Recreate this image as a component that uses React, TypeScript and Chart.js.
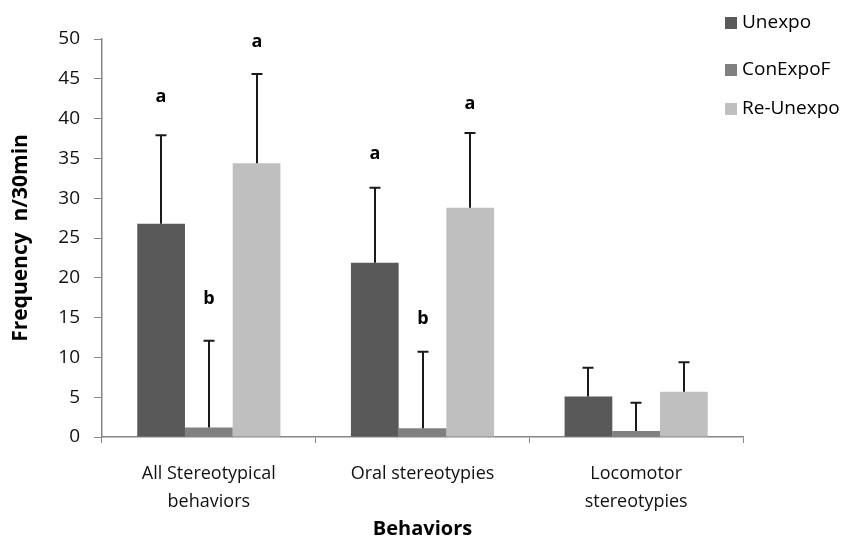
import React, { useEffect, useRef } from 'react';
import { Chart, registerables } from 'chart.js';

Chart.register(...registerables);

const categories: (string | string[])[] = [
  ['All Stereotypical', 'behaviors'],
  'Oral stereotypies',
  ['Locomotor', 'stereotypies'],
];
const seriesNames = ['Unexpo', 'ConExpoF', 'Re-Unexpo'];
const seriesColors = ['#595959', '#808080', '#bfbfbf'];

const unexpo = [26.8, 21.9, 5.1];
const conExpoF = [1.2, 1.1, 0.75];
const reUnexpo = [34.4, 28.8, 5.7];

// upper ends of the error bars
const unexpoErrTop = [37.9, 31.3, 8.7];
const conExpoFErrTop = [12.1, 10.7, 4.3];
const reUnexpoErrTop = [45.6, 38.2, 9.4];

// significance letters and the value at which each is centred
const unexpoLetters = ['a', 'a', ''];
const conExpoFLetters = ['b', 'b', ''];
const reUnexpoLetters = ['a', 'a', ''];
const unexpoLetterPos = [42.7, 35.6, 0];
const conExpoFLetterPos = [17.3, 14.8, 0];
const reUnexpoLetterPos = [49.6, 41.8, 0];

const yTicks = [0, 5, 10, 15, 20, 25, 30, 35, 40, 45, 50];

const FONT = "'Open Sans', 'DejaVu Sans', sans-serif";
const AXIS_COLOR = '#868686';

const errTops = [unexpoErrTop, conExpoFErrTop, reUnexpoErrTop];
const letters = [unexpoLetters, conExpoFLetters, reUnexpoLetters];
const letterPos = [unexpoLetterPos, conExpoFLetterPos, reUnexpoLetterPos];

const overlayPlugin = {
  id: 'overlay',
  afterDatasetsDraw(chart: any) {
    const ctx = chart.ctx;
    const y = chart.scales.y;
    ctx.save();
    // error bars
    for (let d = 0; d < 3; d++) {
      const meta = chart.getDatasetMeta(d);
      meta.data.forEach((bar: any, i: number) => {
        const x = Math.round(bar.x);
        const yTop = y.getPixelForValue(errTops[d][i]);
        const yBar = bar.y;
        ctx.strokeStyle = '#1a1a1a';
        ctx.lineWidth = 2;
        ctx.beginPath();
        ctx.moveTo(x, yBar);
        ctx.lineTo(x, yTop);
        ctx.moveTo(x - 5.5, yTop);
        ctx.lineTo(x + 5.5, yTop);
        ctx.stroke();
        const L = letters[d][i];
        if (L) {
          ctx.fillStyle = '#000';
          ctx.font = `bold 18px ${FONT}`;
          ctx.textAlign = 'center';
          ctx.textBaseline = 'middle';
          ctx.fillText(L, x, y.getPixelForValue(letterPos[d][i]));
        }
      });
    }
    // legend
    const legendY = [23, 70, 109];
    for (let d = 0; d < 3; d++) {
      ctx.fillStyle = seriesColors[d];
      ctx.fillRect(725, legendY[d] - 6, 12, 12);
      ctx.fillStyle = '#000';
      ctx.font = `19px ${FONT}`;
      ctx.textAlign = 'left';
      ctx.textBaseline = 'middle';
      ctx.fillText(seriesNames[d], 742, legendY[d]);
    }
    ctx.restore();
  },
};

export default function App() {
  const ref = useRef<HTMLCanvasElement>(null);
  useEffect(() => {
    if (!ref.current) return;
    const chart = new Chart(ref.current, {
      type: 'bar',
      data: {
        labels: categories as any,
        datasets: [
          { label: seriesNames[0], data: unexpo, backgroundColor: seriesColors[0] },
          { label: seriesNames[1], data: conExpoF, backgroundColor: seriesColors[1] },
          { label: seriesNames[2], data: reUnexpo, backgroundColor: seriesColors[2] },
        ],
      },
      options: {
        responsive: false,
        animation: false,
        devicePixelRatio: 1,
        layout: { padding: { left: 0, right: 101, top: 39, bottom: 0 } },
        datasets: { bar: { categoryPercentage: 0.67, barPercentage: 1.0 } } as any,
        plugins: {
          legend: { display: false },
          tooltip: { enabled: false },
        },
        scales: {
          x: {
            offset: true,
            grid: {
              display: true,
              drawOnChartArea: false,
              drawTicks: true,
              tickLength: 6,
              color: AXIS_COLOR,
              offset: true,
            },
            border: { display: true, color: AXIS_COLOR, width: 1.5 },
            ticks: {
              color: '#111',
              font: { family: FONT, size: 18, lineHeight: 1.55 },
              padding: 17,
              maxRotation: 0,
              autoSkip: false,
            },
            title: {
              display: true,
              text: 'Behaviors',
              color: '#000',
              font: { family: FONT, size: 20, weight: 'bold', lineHeight: 0.8 },
              padding: { top: 0, bottom: 0 },
            },
            afterFit: (s: any) => {
              s.height = 100;
            },
          },
          y: {
            min: 0,
            max: 50,
            afterBuildTicks: (s: any) => {
              s.ticks = yTicks.map((v) => ({ value: v }));
            },
            grid: {
              display: true,
              drawOnChartArea: false,
              drawTicks: true,
              tickLength: 8,
              color: AXIS_COLOR,
            },
            border: { display: true, color: AXIS_COLOR, width: 1.5 },
            ticks: {
              color: '#111',
              font: { family: FONT, size: 19 },
              padding: 14,
            },
            title: {
              display: true,
              text: 'Frequency  n/30min',
              color: '#000',
              font: { family: FONT, size: 21, weight: 'bold' },
              padding: { top: 8, bottom: 0 },
            },
            afterFit: (s: any) => {
              s.width = 102;
            },
          },
        },
      },
      plugins: [overlayPlugin],
    });
    return () => chart.destroy();
  }, []);
  return (
    <div style={{ position: 'absolute', left: 0, top: 0, width: 844, height: 537, background: '#fff' }}>
      <canvas ref={ref} width={844} height={537} />
    </div>
  );
}
